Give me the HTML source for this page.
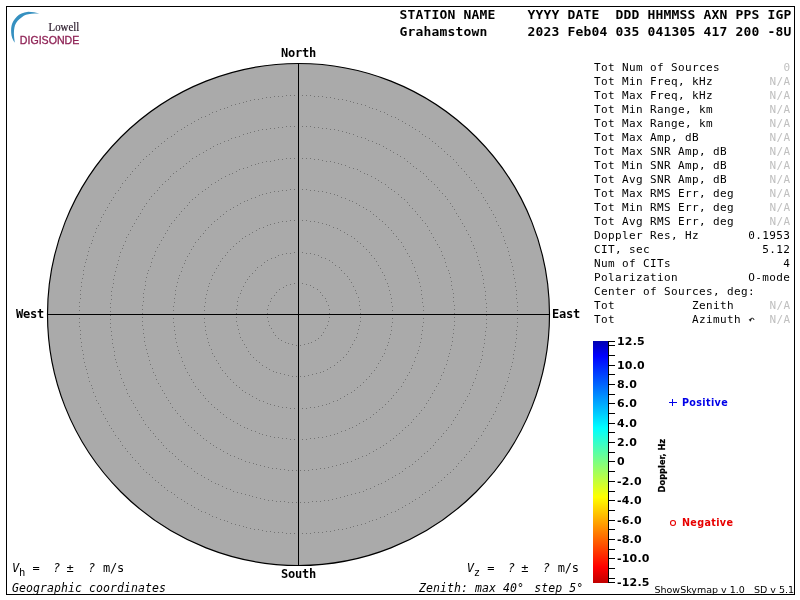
<!DOCTYPE html>
<html><head><meta charset="utf-8"><title>Skymap</title>
<style>
html,body{margin:0;padding:0;background:#fff;width:800px;height:600px;overflow:hidden}
svg{position:absolute;left:0;top:0;display:block;will-change:transform}
text{white-space:pre}
.hd{font:bold 13px "DejaVu Sans Mono",monospace;letter-spacing:0.173px;fill:#000}
.st{font:11px "DejaVu Sans Mono",monospace;letter-spacing:0.378px;fill:#000}
.na{fill:#c0c0c0}
.cmp{font:bold 12px "DejaVu Sans Mono",monospace;letter-spacing:-0.225px;fill:#000}
.it{font:italic 12px "DejaVu Sans Mono",monospace;letter-spacing:-0.225px;fill:#000}
.it2{font:italic 11.5px "DejaVu Sans Mono",monospace;letter-spacing:0.077px;fill:#000}
.up{font:12px "DejaVu Sans Mono",monospace;fill:#000}
.sub{font:10.5px "DejaVu Sans Mono",monospace;fill:#000}
.cb{font:bold 11px "DejaVu Sans",sans-serif;letter-spacing:0.2px;fill:#000}
.lg{font:bold 9.6px "DejaVu Sans",sans-serif;letter-spacing:0.34px}
.ft{font:9.5px "DejaVu Sans",sans-serif;fill:#000}
</style></head><body>
<svg width="800" height="600" viewBox="0 0 800 600">
<defs>
<linearGradient id="jet" x1="0" y1="341" x2="0" y2="583" gradientUnits="userSpaceOnUse">
<stop offset="0" stop-color="#0000b0"/>
<stop offset="0.062" stop-color="#0000ff"/>
<stop offset="0.36" stop-color="#00ffff"/>
<stop offset="0.645" stop-color="#ffff00"/>
<stop offset="0.934" stop-color="#ff0000"/>
<stop offset="1" stop-color="#c00000"/>
</linearGradient>
</defs>
<rect x="6.5" y="6.5" width="788" height="588" fill="none" stroke="#000" stroke-width="1"/>

<circle cx="298.5" cy="314.5" r="251" fill="#aaaaaa" stroke="#000" stroke-width="1.15"/>
<path d="M79 302h1v1h-1zM79 306h1v1h-1zM79 310h1v1h-1zM79 314h1v1h-1zM79 318h1v1h-1zM79 322h1v1h-1zM79 326h1v1h-1zM80 290h1v1h-1zM80 294h1v1h-1zM80 298h1v1h-1zM80 330h1v1h-1zM80 334h1v1h-1zM80 338h1v1h-1zM81 282h1v1h-1zM81 286h1v1h-1zM81 342h1v1h-1zM81 346h1v1h-1zM82 278h1v1h-1zM82 350h1v1h-1zM83 270h1v1h-1zM83 274h1v1h-1zM83 354h1v1h-1zM83 358h1v1h-1zM84 266h1v1h-1zM84 362h1v1h-1zM85 262h1v1h-1zM85 366h1v1h-1zM86 259h1v1h-1zM86 369h1v1h-1zM87 255h1v1h-1zM87 373h1v1h-1zM88 251h1v1h-1zM88 377h1v1h-1zM89 247h1v1h-1zM89 381h1v1h-1zM91 243h1v1h-1zM91 385h1v1h-1zM92 240h1v1h-1zM92 388h1v1h-1zM93 236h1v1h-1zM93 392h1v1h-1zM95 232h1v1h-1zM95 396h1v1h-1zM96 228h1v1h-1zM96 400h1v1h-1zM98 225h1v1h-1zM98 403h1v1h-1zM100 221h1v1h-1zM100 407h1v1h-1zM101 217h1v1h-1zM101 411h1v1h-1zM103 214h1v1h-1zM103 414h1v1h-1zM105 210h1v1h-1zM105 418h1v1h-1zM107 207h1v1h-1zM107 421h1v1h-1zM109 203h1v1h-1zM109 425h1v1h-1zM110 303h1v1h-1zM110 307h1v1h-1zM110 311h1v1h-1zM110 315h1v1h-1zM110 319h1v1h-1zM110 323h1v1h-1zM110 327h1v1h-1zM111 200h1v1h-1zM111 291h1v1h-1zM111 295h1v1h-1zM111 299h1v1h-1zM111 331h1v1h-1zM111 335h1v1h-1zM111 428h1v1h-1zM112 287h1v1h-1zM112 339h1v1h-1zM112 343h1v1h-1zM113 197h1v1h-1zM113 279h1v1h-1zM113 283h1v1h-1zM113 347h1v1h-1zM113 431h1v1h-1zM114 275h1v1h-1zM114 351h1v1h-1zM114 355h1v1h-1zM115 193h1v1h-1zM115 271h1v1h-1zM115 359h1v1h-1zM115 435h1v1h-1zM116 267h1v1h-1zM116 362h1v1h-1zM117 264h1v1h-1zM117 366h1v1h-1zM118 190h1v1h-1zM118 260h1v1h-1zM118 438h1v1h-1zM119 256h1v1h-1zM119 370h1v1h-1zM120 187h1v1h-1zM120 252h1v1h-1zM120 374h1v1h-1zM120 441h1v1h-1zM121 378h1v1h-1zM122 183h1v1h-1zM122 248h1v1h-1zM122 445h1v1h-1zM123 245h1v1h-1zM123 382h1v1h-1zM124 385h1v1h-1zM125 180h1v1h-1zM125 241h1v1h-1zM125 448h1v1h-1zM126 237h1v1h-1zM126 389h1v1h-1zM127 177h1v1h-1zM127 393h1v1h-1zM127 451h1v1h-1zM128 234h1v1h-1zM129 396h1v1h-1zM130 174h1v1h-1zM130 230h1v1h-1zM130 454h1v1h-1zM131 400h1v1h-1zM132 171h1v1h-1zM132 226h1v1h-1zM132 457h1v1h-1zM133 403h1v1h-1zM134 223h1v1h-1zM135 168h1v1h-1zM135 407h1v1h-1zM135 460h1v1h-1zM136 219h1v1h-1zM137 410h1v1h-1zM138 165h1v1h-1zM138 216h1v1h-1zM138 463h1v1h-1zM139 414h1v1h-1zM140 162h1v1h-1zM140 213h1v1h-1zM140 466h1v1h-1zM141 417h1v1h-1zM142 209h1v1h-1zM142 305h1v1h-1zM142 309h1v1h-1zM142 313h1v1h-1zM142 317h1v1h-1zM142 321h1v1h-1zM142 325h1v1h-1zM143 159h1v1h-1zM143 293h1v1h-1zM143 297h1v1h-1zM143 301h1v1h-1zM143 329h1v1h-1zM143 333h1v1h-1zM143 420h1v1h-1zM143 469h1v1h-1zM144 206h1v1h-1zM144 289h1v1h-1zM144 337h1v1h-1zM144 341h1v1h-1zM145 281h1v1h-1zM145 285h1v1h-1zM145 345h1v1h-1zM145 424h1v1h-1zM146 156h1v1h-1zM146 203h1v1h-1zM146 277h1v1h-1zM146 349h1v1h-1zM146 472h1v1h-1zM147 273h1v1h-1zM147 353h1v1h-1zM148 270h1v1h-1zM148 356h1v1h-1zM148 427h1v1h-1zM149 154h1v1h-1zM149 199h1v1h-1zM149 360h1v1h-1zM149 474h1v1h-1zM150 266h1v1h-1zM150 364h1v1h-1zM150 430h1v1h-1zM151 196h1v1h-1zM151 262h1v1h-1zM152 151h1v1h-1zM152 258h1v1h-1zM152 368h1v1h-1zM152 477h1v1h-1zM153 372h1v1h-1zM153 433h1v1h-1zM154 193h1v1h-1zM154 255h1v1h-1zM155 148h1v1h-1zM155 251h1v1h-1zM155 375h1v1h-1zM155 436h1v1h-1zM155 480h1v1h-1zM156 379h1v1h-1zM157 190h1v1h-1zM157 247h1v1h-1zM158 146h1v1h-1zM158 383h1v1h-1zM158 439h1v1h-1zM158 482h1v1h-1zM159 187h1v1h-1zM159 244h1v1h-1zM160 386h1v1h-1zM161 143h1v1h-1zM161 240h1v1h-1zM161 442h1v1h-1zM161 485h1v1h-1zM162 184h1v1h-1zM162 390h1v1h-1zM163 237h1v1h-1zM163 445h1v1h-1zM164 141h1v1h-1zM164 393h1v1h-1zM164 487h1v1h-1zM165 181h1v1h-1zM165 233h1v1h-1zM166 397h1v1h-1zM166 448h1v1h-1zM167 138h1v1h-1zM167 230h1v1h-1zM167 490h1v1h-1zM168 179h1v1h-1zM168 400h1v1h-1zM169 226h1v1h-1zM169 451h1v1h-1zM170 176h1v1h-1zM170 403h1v1h-1zM171 136h1v1h-1zM171 223h1v1h-1zM171 492h1v1h-1zM172 407h1v1h-1zM172 453h1v1h-1zM173 173h1v1h-1zM173 306h1v1h-1zM173 310h1v1h-1zM173 314h1v1h-1zM173 318h1v1h-1zM173 322h1v1h-1zM174 134h1v1h-1zM174 220h1v1h-1zM174 298h1v1h-1zM174 302h1v1h-1zM174 326h1v1h-1zM174 330h1v1h-1zM174 494h1v1h-1zM175 290h1v1h-1zM175 294h1v1h-1zM175 334h1v1h-1zM175 338h1v1h-1zM175 410h1v1h-1zM175 456h1v1h-1zM176 171h1v1h-1zM176 217h1v1h-1zM176 286h1v1h-1zM176 342h1v1h-1zM177 131h1v1h-1zM177 282h1v1h-1zM177 346h1v1h-1zM177 413h1v1h-1zM177 497h1v1h-1zM178 278h1v1h-1zM178 350h1v1h-1zM178 459h1v1h-1zM179 214h1v1h-1zM179 275h1v1h-1zM179 353h1v1h-1zM180 168h1v1h-1zM180 416h1v1h-1zM181 129h1v1h-1zM181 211h1v1h-1zM181 271h1v1h-1zM181 357h1v1h-1zM181 461h1v1h-1zM181 499h1v1h-1zM182 267h1v1h-1zM182 361h1v1h-1zM183 166h1v1h-1zM183 419h1v1h-1zM184 127h1v1h-1zM184 208h1v1h-1zM184 263h1v1h-1zM184 365h1v1h-1zM184 464h1v1h-1zM184 501h1v1h-1zM185 260h1v1h-1zM185 368h1v1h-1zM185 422h1v1h-1zM186 163h1v1h-1zM187 125h1v1h-1zM187 205h1v1h-1zM187 256h1v1h-1zM187 372h1v1h-1zM187 466h1v1h-1zM187 503h1v1h-1zM188 425h1v1h-1zM189 161h1v1h-1zM189 202h1v1h-1zM189 253h1v1h-1zM189 375h1v1h-1zM191 123h1v1h-1zM191 249h1v1h-1zM191 379h1v1h-1zM191 427h1v1h-1zM191 468h1v1h-1zM191 505h1v1h-1zM192 158h1v1h-1zM192 199h1v1h-1zM193 246h1v1h-1zM193 382h1v1h-1zM194 121h1v1h-1zM194 430h1v1h-1zM194 471h1v1h-1zM194 507h1v1h-1zM195 197h1v1h-1zM195 242h1v1h-1zM195 386h1v1h-1zM196 156h1v1h-1zM197 433h1v1h-1zM197 473h1v1h-1zM198 119h1v1h-1zM198 194h1v1h-1zM198 239h1v1h-1zM198 389h1v1h-1zM198 509h1v1h-1zM199 154h1v1h-1zM200 236h1v1h-1zM200 392h1v1h-1zM200 435h1v1h-1zM201 117h1v1h-1zM201 475h1v1h-1zM201 511h1v1h-1zM202 191h1v1h-1zM203 152h1v1h-1zM203 233h1v1h-1zM203 395h1v1h-1zM203 438h1v1h-1zM204 306h1v1h-1zM204 310h1v1h-1zM204 314h1v1h-1zM204 318h1v1h-1zM204 322h1v1h-1zM204 477h1v1h-1zM205 116h1v1h-1zM205 189h1v1h-1zM205 230h1v1h-1zM205 298h1v1h-1zM205 302h1v1h-1zM205 326h1v1h-1zM205 330h1v1h-1zM205 398h1v1h-1zM205 512h1v1h-1zM206 150h1v1h-1zM206 294h1v1h-1zM206 334h1v1h-1zM206 440h1v1h-1zM207 290h1v1h-1zM207 338h1v1h-1zM208 187h1v1h-1zM208 227h1v1h-1zM208 286h1v1h-1zM208 342h1v1h-1zM208 401h1v1h-1zM208 479h1v1h-1zM209 114h1v1h-1zM209 283h1v1h-1zM209 345h1v1h-1zM209 514h1v1h-1zM210 148h1v1h-1zM210 443h1v1h-1zM211 184h1v1h-1zM211 224h1v1h-1zM211 279h1v1h-1zM211 349h1v1h-1zM211 404h1v1h-1zM211 481h1v1h-1zM212 112h1v1h-1zM212 275h1v1h-1zM212 353h1v1h-1zM212 516h1v1h-1zM213 146h1v1h-1zM213 445h1v1h-1zM214 221h1v1h-1zM214 272h1v1h-1zM214 356h1v1h-1zM214 407h1v1h-1zM215 182h1v1h-1zM215 483h1v1h-1zM216 111h1v1h-1zM216 268h1v1h-1zM216 360h1v1h-1zM216 447h1v1h-1zM216 517h1v1h-1zM217 144h1v1h-1zM217 219h1v1h-1zM217 409h1v1h-1zM218 180h1v1h-1zM218 265h1v1h-1zM218 363h1v1h-1zM218 484h1v1h-1zM220 109h1v1h-1zM220 143h1v1h-1zM220 216h1v1h-1zM220 261h1v1h-1zM220 367h1v1h-1zM220 412h1v1h-1zM220 449h1v1h-1zM220 519h1v1h-1zM221 178h1v1h-1zM222 258h1v1h-1zM222 370h1v1h-1zM222 486h1v1h-1zM223 214h1v1h-1zM223 414h1v1h-1zM223 451h1v1h-1zM224 108h1v1h-1zM224 141h1v1h-1zM224 520h1v1h-1zM225 176h1v1h-1zM225 255h1v1h-1zM225 373h1v1h-1zM226 211h1v1h-1zM226 417h1v1h-1zM226 488h1v1h-1zM227 107h1v1h-1zM227 252h1v1h-1zM227 376h1v1h-1zM227 453h1v1h-1zM227 521h1v1h-1zM228 140h1v1h-1zM229 174h1v1h-1zM230 209h1v1h-1zM230 249h1v1h-1zM230 379h1v1h-1zM230 419h1v1h-1zM230 455h1v1h-1zM230 489h1v1h-1zM231 105h1v1h-1zM231 138h1v1h-1zM231 523h1v1h-1zM232 173h1v1h-1zM233 207h1v1h-1zM233 246h1v1h-1zM233 382h1v1h-1zM233 421h1v1h-1zM233 491h1v1h-1zM234 456h1v1h-1zM235 104h1v1h-1zM235 137h1v1h-1zM235 524h1v1h-1zM236 171h1v1h-1zM236 243h1v1h-1zM236 309h1v1h-1zM236 313h1v1h-1zM236 317h1v1h-1zM236 321h1v1h-1zM236 385h1v1h-1zM237 205h1v1h-1zM237 301h1v1h-1zM237 305h1v1h-1zM237 325h1v1h-1zM237 423h1v1h-1zM237 492h1v1h-1zM238 297h1v1h-1zM238 329h1v1h-1zM238 458h1v1h-1zM239 103h1v1h-1zM239 136h1v1h-1zM239 169h1v1h-1zM239 241h1v1h-1zM239 333h1v1h-1zM239 387h1v1h-1zM239 525h1v1h-1zM240 203h1v1h-1zM240 293h1v1h-1zM240 337h1v1h-1zM240 425h1v1h-1zM241 290h1v1h-1zM241 459h1v1h-1zM241 493h1v1h-1zM242 238h1v1h-1zM242 340h1v1h-1zM242 390h1v1h-1zM243 102h1v1h-1zM243 134h1v1h-1zM243 168h1v1h-1zM243 286h1v1h-1zM243 526h1v1h-1zM244 201h1v1h-1zM244 344h1v1h-1zM244 427h1v1h-1zM245 236h1v1h-1zM245 282h1v1h-1zM245 392h1v1h-1zM245 461h1v1h-1zM245 494h1v1h-1zM246 101h1v1h-1zM246 347h1v1h-1zM246 527h1v1h-1zM247 133h1v1h-1zM247 167h1v1h-1zM247 200h1v1h-1zM247 279h1v1h-1zM247 428h1v1h-1zM248 351h1v1h-1zM249 234h1v1h-1zM249 276h1v1h-1zM249 394h1v1h-1zM249 462h1v1h-1zM249 495h1v1h-1zM250 100h1v1h-1zM250 132h1v1h-1zM250 354h1v1h-1zM250 528h1v1h-1zM251 165h1v1h-1zM251 198h1v1h-1zM251 430h1v1h-1zM252 232h1v1h-1zM252 273h1v1h-1zM252 396h1v1h-1zM252 496h1v1h-1zM253 357h1v1h-1zM253 463h1v1h-1zM254 99h1v1h-1zM254 131h1v1h-1zM254 529h1v1h-1zM255 164h1v1h-1zM255 197h1v1h-1zM255 270h1v1h-1zM255 431h1v1h-1zM256 230h1v1h-1zM256 360h1v1h-1zM256 398h1v1h-1zM256 464h1v1h-1zM256 497h1v1h-1zM257 267h1v1h-1zM258 99h1v1h-1zM258 130h1v1h-1zM258 163h1v1h-1zM258 529h1v1h-1zM259 195h1v1h-1zM259 228h1v1h-1zM259 362h1v1h-1zM259 400h1v1h-1zM259 433h1v1h-1zM260 465h1v1h-1zM260 498h1v1h-1zM261 265h1v1h-1zM262 98h1v1h-1zM262 129h1v1h-1zM262 162h1v1h-1zM262 194h1v1h-1zM262 365h1v1h-1zM262 434h1v1h-1zM262 530h1v1h-1zM263 227h1v1h-1zM263 401h1v1h-1zM264 262h1v1h-1zM264 466h1v1h-1zM264 499h1v1h-1zM266 97h1v1h-1zM266 129h1v1h-1zM266 161h1v1h-1zM266 193h1v1h-1zM266 367h1v1h-1zM266 435h1v1h-1zM266 531h1v1h-1zM267 225h1v1h-1zM267 260h1v1h-1zM267 309h1v1h-1zM267 313h1v1h-1zM267 317h1v1h-1zM267 403h1v1h-1zM268 305h1v1h-1zM268 321h1v1h-1zM268 467h1v1h-1zM268 500h1v1h-1zM269 325h1v1h-1zM269 369h1v1h-1zM270 97h1v1h-1zM270 128h1v1h-1zM270 161h1v1h-1zM270 192h1v1h-1zM270 224h1v1h-1zM270 301h1v1h-1zM270 404h1v1h-1zM270 436h1v1h-1zM270 531h1v1h-1zM271 258h1v1h-1zM271 298h1v1h-1zM271 328h1v1h-1zM272 468h1v1h-1zM272 500h1v1h-1zM273 332h1v1h-1zM273 371h1v1h-1zM274 96h1v1h-1zM274 128h1v1h-1zM274 160h1v1h-1zM274 191h1v1h-1zM274 223h1v1h-1zM274 295h1v1h-1zM274 405h1v1h-1zM274 437h1v1h-1zM274 532h1v1h-1zM275 257h1v1h-1zM275 335h1v1h-1zM276 292h1v1h-1zM276 372h1v1h-1zM276 468h1v1h-1zM276 501h1v1h-1zM278 96h1v1h-1zM278 127h1v1h-1zM278 159h1v1h-1zM278 191h1v1h-1zM278 222h1v1h-1zM278 255h1v1h-1zM278 338h1v1h-1zM278 406h1v1h-1zM278 437h1v1h-1zM278 532h1v1h-1zM279 289h1v1h-1zM280 373h1v1h-1zM280 469h1v1h-1zM280 501h1v1h-1zM281 340h1v1h-1zM282 96h1v1h-1zM282 127h1v1h-1zM282 159h1v1h-1zM282 190h1v1h-1zM282 221h1v1h-1zM282 254h1v1h-1zM282 407h1v1h-1zM282 438h1v1h-1zM282 532h1v1h-1zM283 287h1v1h-1zM284 374h1v1h-1zM284 469h1v1h-1zM284 501h1v1h-1zM285 342h1v1h-1zM286 95h1v1h-1zM286 126h1v1h-1zM286 158h1v1h-1zM286 190h1v1h-1zM286 221h1v1h-1zM286 253h1v1h-1zM286 285h1v1h-1zM286 407h1v1h-1zM286 438h1v1h-1zM286 533h1v1h-1zM288 343h1v1h-1zM288 375h1v1h-1zM288 470h1v1h-1zM288 502h1v1h-1zM290 95h1v1h-1zM290 126h1v1h-1zM290 158h1v1h-1zM290 189h1v1h-1zM290 220h1v1h-1zM290 253h1v1h-1zM290 284h1v1h-1zM290 408h1v1h-1zM290 439h1v1h-1zM290 533h1v1h-1zM292 344h1v1h-1zM292 376h1v1h-1zM292 470h1v1h-1zM292 502h1v1h-1zM294 95h1v1h-1zM294 126h1v1h-1zM294 158h1v1h-1zM294 189h1v1h-1zM294 220h1v1h-1zM294 252h1v1h-1zM294 283h1v1h-1zM294 408h1v1h-1zM294 439h1v1h-1zM294 533h1v1h-1zM296 345h1v1h-1zM296 376h1v1h-1zM296 470h1v1h-1zM296 502h1v1h-1zM298 95h1v1h-1zM298 126h1v1h-1zM298 158h1v1h-1zM298 189h1v1h-1zM298 220h1v1h-1zM298 252h1v1h-1zM298 283h1v1h-1zM298 408h1v1h-1zM298 439h1v1h-1zM298 533h1v1h-1zM300 345h1v1h-1zM300 376h1v1h-1zM300 470h1v1h-1zM300 502h1v1h-1zM302 95h1v1h-1zM302 126h1v1h-1zM302 158h1v1h-1zM302 189h1v1h-1zM302 220h1v1h-1zM302 252h1v1h-1zM302 283h1v1h-1zM302 408h1v1h-1zM302 439h1v1h-1zM302 533h1v1h-1zM304 344h1v1h-1zM304 376h1v1h-1zM304 470h1v1h-1zM304 502h1v1h-1zM306 95h1v1h-1zM306 126h1v1h-1zM306 158h1v1h-1zM306 189h1v1h-1zM306 220h1v1h-1zM306 253h1v1h-1zM306 284h1v1h-1zM306 408h1v1h-1zM306 439h1v1h-1zM306 533h1v1h-1zM308 343h1v1h-1zM308 375h1v1h-1zM308 470h1v1h-1zM308 502h1v1h-1zM310 95h1v1h-1zM310 126h1v1h-1zM310 158h1v1h-1zM310 190h1v1h-1zM310 221h1v1h-1zM310 253h1v1h-1zM310 285h1v1h-1zM310 407h1v1h-1zM310 438h1v1h-1zM310 533h1v1h-1zM311 342h1v1h-1zM312 374h1v1h-1zM312 469h1v1h-1zM312 501h1v1h-1zM313 287h1v1h-1zM314 96h1v1h-1zM314 127h1v1h-1zM314 159h1v1h-1zM314 190h1v1h-1zM314 221h1v1h-1zM314 254h1v1h-1zM314 407h1v1h-1zM314 438h1v1h-1zM314 532h1v1h-1zM315 340h1v1h-1zM316 373h1v1h-1zM316 469h1v1h-1zM316 501h1v1h-1zM317 289h1v1h-1zM318 96h1v1h-1zM318 127h1v1h-1zM318 159h1v1h-1zM318 191h1v1h-1zM318 222h1v1h-1zM318 255h1v1h-1zM318 338h1v1h-1zM318 406h1v1h-1zM318 437h1v1h-1zM318 532h1v1h-1zM320 292h1v1h-1zM320 372h1v1h-1zM320 468h1v1h-1zM320 501h1v1h-1zM321 257h1v1h-1zM321 335h1v1h-1zM322 96h1v1h-1zM322 128h1v1h-1zM322 160h1v1h-1zM322 191h1v1h-1zM322 223h1v1h-1zM322 295h1v1h-1zM322 405h1v1h-1zM322 437h1v1h-1zM322 532h1v1h-1zM323 332h1v1h-1zM323 371h1v1h-1zM324 468h1v1h-1zM324 500h1v1h-1zM325 258h1v1h-1zM325 298h1v1h-1zM325 328h1v1h-1zM326 97h1v1h-1zM326 128h1v1h-1zM326 161h1v1h-1zM326 192h1v1h-1zM326 224h1v1h-1zM326 301h1v1h-1zM326 404h1v1h-1zM326 436h1v1h-1zM326 531h1v1h-1zM327 325h1v1h-1zM327 369h1v1h-1zM328 305h1v1h-1zM328 321h1v1h-1zM328 467h1v1h-1zM328 500h1v1h-1zM329 225h1v1h-1zM329 260h1v1h-1zM329 309h1v1h-1zM329 313h1v1h-1zM329 317h1v1h-1zM329 403h1v1h-1zM330 97h1v1h-1zM330 129h1v1h-1zM330 161h1v1h-1zM330 193h1v1h-1zM330 367h1v1h-1zM330 435h1v1h-1zM330 531h1v1h-1zM332 262h1v1h-1zM332 466h1v1h-1zM332 499h1v1h-1zM333 227h1v1h-1zM333 401h1v1h-1zM334 98h1v1h-1zM334 129h1v1h-1zM334 162h1v1h-1zM334 194h1v1h-1zM334 365h1v1h-1zM334 434h1v1h-1zM334 530h1v1h-1zM335 265h1v1h-1zM336 465h1v1h-1zM336 498h1v1h-1zM337 195h1v1h-1zM337 228h1v1h-1zM337 362h1v1h-1zM337 400h1v1h-1zM337 433h1v1h-1zM338 99h1v1h-1zM338 130h1v1h-1zM338 163h1v1h-1zM338 529h1v1h-1zM339 267h1v1h-1zM340 230h1v1h-1zM340 360h1v1h-1zM340 398h1v1h-1zM340 464h1v1h-1zM340 497h1v1h-1zM341 164h1v1h-1zM341 197h1v1h-1zM341 270h1v1h-1zM341 431h1v1h-1zM342 99h1v1h-1zM342 131h1v1h-1zM342 529h1v1h-1zM343 357h1v1h-1zM343 463h1v1h-1zM344 232h1v1h-1zM344 273h1v1h-1zM344 396h1v1h-1zM344 496h1v1h-1zM345 165h1v1h-1zM345 198h1v1h-1zM345 430h1v1h-1zM346 100h1v1h-1zM346 132h1v1h-1zM346 354h1v1h-1zM346 528h1v1h-1zM347 234h1v1h-1zM347 276h1v1h-1zM347 394h1v1h-1zM347 462h1v1h-1zM347 495h1v1h-1zM348 351h1v1h-1zM349 133h1v1h-1zM349 167h1v1h-1zM349 200h1v1h-1zM349 279h1v1h-1zM349 428h1v1h-1zM350 101h1v1h-1zM350 347h1v1h-1zM350 527h1v1h-1zM351 236h1v1h-1zM351 282h1v1h-1zM351 392h1v1h-1zM351 461h1v1h-1zM351 494h1v1h-1zM352 201h1v1h-1zM352 344h1v1h-1zM352 427h1v1h-1zM353 102h1v1h-1zM353 134h1v1h-1zM353 168h1v1h-1zM353 286h1v1h-1zM353 526h1v1h-1zM354 238h1v1h-1zM354 340h1v1h-1zM354 390h1v1h-1zM355 290h1v1h-1zM355 459h1v1h-1zM355 493h1v1h-1zM356 203h1v1h-1zM356 293h1v1h-1zM356 337h1v1h-1zM356 425h1v1h-1zM357 103h1v1h-1zM357 136h1v1h-1zM357 169h1v1h-1zM357 241h1v1h-1zM357 333h1v1h-1zM357 387h1v1h-1zM357 525h1v1h-1zM358 297h1v1h-1zM358 329h1v1h-1zM358 458h1v1h-1zM359 205h1v1h-1zM359 301h1v1h-1zM359 305h1v1h-1zM359 325h1v1h-1zM359 423h1v1h-1zM359 492h1v1h-1zM360 171h1v1h-1zM360 243h1v1h-1zM360 309h1v1h-1zM360 313h1v1h-1zM360 317h1v1h-1zM360 321h1v1h-1zM360 385h1v1h-1zM361 104h1v1h-1zM361 137h1v1h-1zM361 524h1v1h-1zM362 456h1v1h-1zM363 207h1v1h-1zM363 246h1v1h-1zM363 382h1v1h-1zM363 421h1v1h-1zM363 491h1v1h-1zM364 173h1v1h-1zM365 105h1v1h-1zM365 138h1v1h-1zM365 523h1v1h-1zM366 209h1v1h-1zM366 249h1v1h-1zM366 379h1v1h-1zM366 419h1v1h-1zM366 455h1v1h-1zM366 489h1v1h-1zM367 174h1v1h-1zM368 140h1v1h-1zM369 107h1v1h-1zM369 252h1v1h-1zM369 376h1v1h-1zM369 453h1v1h-1zM369 521h1v1h-1zM370 211h1v1h-1zM370 417h1v1h-1zM370 488h1v1h-1zM371 176h1v1h-1zM371 255h1v1h-1zM371 373h1v1h-1zM372 108h1v1h-1zM372 141h1v1h-1zM372 520h1v1h-1zM373 214h1v1h-1zM373 414h1v1h-1zM373 451h1v1h-1zM374 258h1v1h-1zM374 370h1v1h-1zM374 486h1v1h-1zM375 178h1v1h-1zM376 109h1v1h-1zM376 143h1v1h-1zM376 216h1v1h-1zM376 261h1v1h-1zM376 367h1v1h-1zM376 412h1v1h-1zM376 449h1v1h-1zM376 519h1v1h-1zM378 180h1v1h-1zM378 265h1v1h-1zM378 363h1v1h-1zM378 484h1v1h-1zM379 144h1v1h-1zM379 219h1v1h-1zM379 409h1v1h-1zM380 111h1v1h-1zM380 268h1v1h-1zM380 360h1v1h-1zM380 447h1v1h-1zM380 517h1v1h-1zM381 182h1v1h-1zM381 483h1v1h-1zM382 221h1v1h-1zM382 272h1v1h-1zM382 356h1v1h-1zM382 407h1v1h-1zM383 146h1v1h-1zM383 445h1v1h-1zM384 112h1v1h-1zM384 275h1v1h-1zM384 353h1v1h-1zM384 516h1v1h-1zM385 184h1v1h-1zM385 224h1v1h-1zM385 279h1v1h-1zM385 349h1v1h-1zM385 404h1v1h-1zM385 481h1v1h-1zM386 148h1v1h-1zM386 443h1v1h-1zM387 114h1v1h-1zM387 283h1v1h-1zM387 345h1v1h-1zM387 514h1v1h-1zM388 187h1v1h-1zM388 227h1v1h-1zM388 286h1v1h-1zM388 342h1v1h-1zM388 401h1v1h-1zM388 479h1v1h-1zM389 290h1v1h-1zM389 338h1v1h-1zM390 150h1v1h-1zM390 294h1v1h-1zM390 334h1v1h-1zM390 440h1v1h-1zM391 116h1v1h-1zM391 189h1v1h-1zM391 230h1v1h-1zM391 298h1v1h-1zM391 302h1v1h-1zM391 326h1v1h-1zM391 330h1v1h-1zM391 398h1v1h-1zM391 512h1v1h-1zM392 306h1v1h-1zM392 310h1v1h-1zM392 314h1v1h-1zM392 318h1v1h-1zM392 322h1v1h-1zM392 477h1v1h-1zM393 152h1v1h-1zM393 233h1v1h-1zM393 395h1v1h-1zM393 438h1v1h-1zM394 191h1v1h-1zM395 117h1v1h-1zM395 475h1v1h-1zM395 511h1v1h-1zM396 236h1v1h-1zM396 392h1v1h-1zM396 435h1v1h-1zM397 154h1v1h-1zM398 119h1v1h-1zM398 194h1v1h-1zM398 239h1v1h-1zM398 389h1v1h-1zM398 509h1v1h-1zM399 433h1v1h-1zM399 473h1v1h-1zM400 156h1v1h-1zM401 197h1v1h-1zM401 242h1v1h-1zM401 386h1v1h-1zM402 121h1v1h-1zM402 430h1v1h-1zM402 471h1v1h-1zM402 507h1v1h-1zM403 246h1v1h-1zM403 382h1v1h-1zM404 158h1v1h-1zM404 199h1v1h-1zM405 123h1v1h-1zM405 249h1v1h-1zM405 379h1v1h-1zM405 427h1v1h-1zM405 468h1v1h-1zM405 505h1v1h-1zM407 161h1v1h-1zM407 202h1v1h-1zM407 253h1v1h-1zM407 375h1v1h-1zM408 425h1v1h-1zM409 125h1v1h-1zM409 205h1v1h-1zM409 256h1v1h-1zM409 372h1v1h-1zM409 466h1v1h-1zM409 503h1v1h-1zM410 163h1v1h-1zM411 260h1v1h-1zM411 368h1v1h-1zM411 422h1v1h-1zM412 127h1v1h-1zM412 208h1v1h-1zM412 263h1v1h-1zM412 365h1v1h-1zM412 464h1v1h-1zM412 501h1v1h-1zM413 166h1v1h-1zM413 419h1v1h-1zM414 267h1v1h-1zM414 361h1v1h-1zM415 129h1v1h-1zM415 211h1v1h-1zM415 271h1v1h-1zM415 357h1v1h-1zM415 461h1v1h-1zM415 499h1v1h-1zM416 168h1v1h-1zM416 416h1v1h-1zM417 214h1v1h-1zM417 275h1v1h-1zM417 353h1v1h-1zM418 278h1v1h-1zM418 350h1v1h-1zM418 459h1v1h-1zM419 131h1v1h-1zM419 282h1v1h-1zM419 346h1v1h-1zM419 413h1v1h-1zM419 497h1v1h-1zM420 171h1v1h-1zM420 217h1v1h-1zM420 286h1v1h-1zM420 342h1v1h-1zM421 290h1v1h-1zM421 294h1v1h-1zM421 334h1v1h-1zM421 338h1v1h-1zM421 410h1v1h-1zM421 456h1v1h-1zM422 134h1v1h-1zM422 220h1v1h-1zM422 298h1v1h-1zM422 302h1v1h-1zM422 326h1v1h-1zM422 330h1v1h-1zM422 494h1v1h-1zM423 173h1v1h-1zM423 306h1v1h-1zM423 310h1v1h-1zM423 314h1v1h-1zM423 318h1v1h-1zM423 322h1v1h-1zM424 407h1v1h-1zM424 453h1v1h-1zM425 136h1v1h-1zM425 223h1v1h-1zM425 492h1v1h-1zM426 176h1v1h-1zM426 403h1v1h-1zM427 226h1v1h-1zM427 451h1v1h-1zM428 179h1v1h-1zM428 400h1v1h-1zM429 138h1v1h-1zM429 230h1v1h-1zM429 490h1v1h-1zM430 397h1v1h-1zM430 448h1v1h-1zM431 181h1v1h-1zM431 233h1v1h-1zM432 141h1v1h-1zM432 393h1v1h-1zM432 487h1v1h-1zM433 237h1v1h-1zM433 445h1v1h-1zM434 184h1v1h-1zM434 390h1v1h-1zM435 143h1v1h-1zM435 240h1v1h-1zM435 442h1v1h-1zM435 485h1v1h-1zM436 386h1v1h-1zM437 187h1v1h-1zM437 244h1v1h-1zM438 146h1v1h-1zM438 383h1v1h-1zM438 439h1v1h-1zM438 482h1v1h-1zM439 190h1v1h-1zM439 247h1v1h-1zM440 379h1v1h-1zM441 148h1v1h-1zM441 251h1v1h-1zM441 375h1v1h-1zM441 436h1v1h-1zM441 480h1v1h-1zM442 193h1v1h-1zM442 255h1v1h-1zM443 372h1v1h-1zM443 433h1v1h-1zM444 151h1v1h-1zM444 258h1v1h-1zM444 368h1v1h-1zM444 477h1v1h-1zM445 196h1v1h-1zM445 262h1v1h-1zM446 266h1v1h-1zM446 364h1v1h-1zM446 430h1v1h-1zM447 154h1v1h-1zM447 199h1v1h-1zM447 360h1v1h-1zM447 474h1v1h-1zM448 270h1v1h-1zM448 356h1v1h-1zM448 427h1v1h-1zM449 273h1v1h-1zM449 353h1v1h-1zM450 156h1v1h-1zM450 203h1v1h-1zM450 277h1v1h-1zM450 349h1v1h-1zM450 472h1v1h-1zM451 281h1v1h-1zM451 285h1v1h-1zM451 345h1v1h-1zM451 424h1v1h-1zM452 206h1v1h-1zM452 289h1v1h-1zM452 337h1v1h-1zM452 341h1v1h-1zM453 159h1v1h-1zM453 293h1v1h-1zM453 297h1v1h-1zM453 301h1v1h-1zM453 329h1v1h-1zM453 333h1v1h-1zM453 420h1v1h-1zM453 469h1v1h-1zM454 209h1v1h-1zM454 305h1v1h-1zM454 309h1v1h-1zM454 313h1v1h-1zM454 317h1v1h-1zM454 321h1v1h-1zM454 325h1v1h-1zM455 417h1v1h-1zM456 162h1v1h-1zM456 213h1v1h-1zM456 466h1v1h-1zM457 414h1v1h-1zM458 165h1v1h-1zM458 216h1v1h-1zM458 463h1v1h-1zM459 410h1v1h-1zM460 219h1v1h-1zM461 168h1v1h-1zM461 407h1v1h-1zM461 460h1v1h-1zM462 223h1v1h-1zM463 403h1v1h-1zM464 171h1v1h-1zM464 226h1v1h-1zM464 457h1v1h-1zM465 400h1v1h-1zM466 174h1v1h-1zM466 230h1v1h-1zM466 454h1v1h-1zM467 396h1v1h-1zM468 234h1v1h-1zM469 177h1v1h-1zM469 393h1v1h-1zM469 451h1v1h-1zM470 237h1v1h-1zM470 389h1v1h-1zM471 180h1v1h-1zM471 241h1v1h-1zM471 448h1v1h-1zM472 385h1v1h-1zM473 245h1v1h-1zM473 382h1v1h-1zM474 183h1v1h-1zM474 248h1v1h-1zM474 445h1v1h-1zM475 378h1v1h-1zM476 187h1v1h-1zM476 252h1v1h-1zM476 374h1v1h-1zM476 441h1v1h-1zM477 256h1v1h-1zM477 370h1v1h-1zM478 190h1v1h-1zM478 260h1v1h-1zM478 438h1v1h-1zM479 264h1v1h-1zM479 366h1v1h-1zM480 267h1v1h-1zM480 362h1v1h-1zM481 193h1v1h-1zM481 271h1v1h-1zM481 359h1v1h-1zM481 435h1v1h-1zM482 275h1v1h-1zM482 351h1v1h-1zM482 355h1v1h-1zM483 197h1v1h-1zM483 279h1v1h-1zM483 283h1v1h-1zM483 347h1v1h-1zM483 431h1v1h-1zM484 287h1v1h-1zM484 339h1v1h-1zM484 343h1v1h-1zM485 200h1v1h-1zM485 291h1v1h-1zM485 295h1v1h-1zM485 299h1v1h-1zM485 331h1v1h-1zM485 335h1v1h-1zM485 428h1v1h-1zM486 303h1v1h-1zM486 307h1v1h-1zM486 311h1v1h-1zM486 315h1v1h-1zM486 319h1v1h-1zM486 323h1v1h-1zM486 327h1v1h-1zM487 203h1v1h-1zM487 425h1v1h-1zM489 207h1v1h-1zM489 421h1v1h-1zM491 210h1v1h-1zM491 418h1v1h-1zM493 214h1v1h-1zM493 414h1v1h-1zM495 217h1v1h-1zM495 411h1v1h-1zM496 221h1v1h-1zM496 407h1v1h-1zM498 225h1v1h-1zM498 403h1v1h-1zM500 228h1v1h-1zM500 400h1v1h-1zM501 232h1v1h-1zM501 396h1v1h-1zM503 236h1v1h-1zM503 392h1v1h-1zM504 240h1v1h-1zM504 388h1v1h-1zM505 243h1v1h-1zM505 385h1v1h-1zM507 247h1v1h-1zM507 381h1v1h-1zM508 251h1v1h-1zM508 377h1v1h-1zM509 255h1v1h-1zM509 373h1v1h-1zM510 259h1v1h-1zM510 369h1v1h-1zM511 262h1v1h-1zM511 366h1v1h-1zM512 266h1v1h-1zM512 362h1v1h-1zM513 270h1v1h-1zM513 274h1v1h-1zM513 354h1v1h-1zM513 358h1v1h-1zM514 278h1v1h-1zM514 350h1v1h-1zM515 282h1v1h-1zM515 286h1v1h-1zM515 342h1v1h-1zM515 346h1v1h-1zM516 290h1v1h-1zM516 294h1v1h-1zM516 298h1v1h-1zM516 330h1v1h-1zM516 334h1v1h-1zM516 338h1v1h-1zM517 302h1v1h-1zM517 306h1v1h-1zM517 310h1v1h-1zM517 314h1v1h-1zM517 318h1v1h-1zM517 322h1v1h-1zM517 326h1v1h-1z" fill="#747474"/>
<line x1="298.5" y1="63.5" x2="298.5" y2="565.5" stroke="#000" stroke-width="1"/>
<line x1="47.5" y1="314.5" x2="549.5" y2="314.5" stroke="#000" stroke-width="1"/>
<text class="cmp" x="281" y="57">North</text>
<text class="cmp" x="281" y="578">South</text>
<text class="cmp" x="16" y="318">West</text>
<text class="cmp" x="552" y="318">East</text>
<text class="hd" x="399.5" y="19">STATION NAME    YYYY DATE  DDD HHMMSS AXN PPS IGP</text>
<text class="hd" x="399.5" y="36">Grahamstown     2023 Feb04 035 041305 417 200 -8U</text>
<text class="st" x="594" y="71">Tot Num of Sources</text>
<text class="st na" x="783.6" y="71">0</text>
<text class="st" x="594" y="85">Tot Min Freq, kHz</text>
<text class="st na" x="769.6" y="85">N/A</text>
<text class="st" x="594" y="99">Tot Max Freq, kHz</text>
<text class="st na" x="769.6" y="99">N/A</text>
<text class="st" x="594" y="113">Tot Min Range, km</text>
<text class="st na" x="769.6" y="113">N/A</text>
<text class="st" x="594" y="127">Tot Max Range, km</text>
<text class="st na" x="769.6" y="127">N/A</text>
<text class="st" x="594" y="141">Tot Max Amp, dB</text>
<text class="st na" x="769.6" y="141">N/A</text>
<text class="st" x="594" y="155">Tot Max SNR Amp, dB</text>
<text class="st na" x="769.6" y="155">N/A</text>
<text class="st" x="594" y="169">Tot Min SNR Amp, dB</text>
<text class="st na" x="769.6" y="169">N/A</text>
<text class="st" x="594" y="183">Tot Avg SNR Amp, dB</text>
<text class="st na" x="769.6" y="183">N/A</text>
<text class="st" x="594" y="197">Tot Max RMS Err, deg</text>
<text class="st na" x="769.6" y="197">N/A</text>
<text class="st" x="594" y="211">Tot Min RMS Err, deg</text>
<text class="st na" x="769.6" y="211">N/A</text>
<text class="st" x="594" y="225">Tot Avg RMS Err, deg</text>
<text class="st na" x="769.6" y="225">N/A</text>
<text class="st" x="594" y="239">Doppler Res, Hz</text>
<text class="st" x="748.3" y="239">0.1953</text>
<text class="st" x="594" y="253">CIT, sec</text>
<text class="st" x="762.3" y="253">5.12</text>
<text class="st" x="594" y="267">Num of CITs</text>
<text class="st" x="783.3" y="267">4</text>
<text class="st" x="594" y="281">Polarization</text>
<text class="st" x="748.3" y="281">O-mode</text>
<text class="st" x="594" y="295">Center of Sources, deg:</text>
<text class="st" x="594" y="309">Tot           Zenith</text>
<text class="st na" x="769.6" y="309">N/A</text>
<text class="st" x="594" y="323">Tot           Azimuth</text>
<text class="st na" x="769.6" y="323">N/A</text>
<path d="M750.3 320 A1.85 1.85 0 0 1 754 320" fill="none" stroke="#222" stroke-width="1"/>
<path d="M748.7 319.3 L751.8 319.3 L750.3 321.7 Z" fill="#111"/>
<rect x="593" y="341" width="15" height="242" fill="url(#jet)"/>
<rect x="608" y="341" width="1" height="242" fill="#000"/>
<rect x="608" y="341" width="7" height="1" fill="#000"/>
<rect x="608" y="345" width="7" height="1" fill="#000"/>
<rect x="608" y="355" width="7" height="1" fill="#000"/>
<rect x="608" y="365" width="7" height="1" fill="#000"/>
<rect x="608" y="374" width="7" height="1" fill="#000"/>
<rect x="608" y="384" width="7" height="1" fill="#000"/>
<rect x="608" y="394" width="7" height="1" fill="#000"/>
<rect x="608" y="403" width="7" height="1" fill="#000"/>
<rect x="608" y="413" width="7" height="1" fill="#000"/>
<rect x="608" y="423" width="7" height="1" fill="#000"/>
<rect x="608" y="432" width="7" height="1" fill="#000"/>
<rect x="608" y="442" width="7" height="1" fill="#000"/>
<rect x="608" y="452" width="7" height="1" fill="#000"/>
<rect x="608" y="461" width="7" height="1" fill="#000"/>
<rect x="608" y="471" width="7" height="1" fill="#000"/>
<rect x="608" y="481" width="7" height="1" fill="#000"/>
<rect x="608" y="491" width="7" height="1" fill="#000"/>
<rect x="608" y="500" width="7" height="1" fill="#000"/>
<rect x="608" y="510" width="7" height="1" fill="#000"/>
<rect x="608" y="520" width="7" height="1" fill="#000"/>
<rect x="608" y="529" width="7" height="1" fill="#000"/>
<rect x="608" y="539" width="7" height="1" fill="#000"/>
<rect x="608" y="549" width="7" height="1" fill="#000"/>
<rect x="608" y="558" width="7" height="1" fill="#000"/>
<rect x="608" y="568" width="7" height="1" fill="#000"/>
<rect x="608" y="578" width="7" height="1" fill="#000"/>
<rect x="608" y="582" width="7" height="1" fill="#000"/>
<text class="cb" x="617" y="345">12.5</text>
<text class="cb" x="617" y="369">10.0</text>
<text class="cb" x="617" y="388">8.0</text>
<text class="cb" x="617" y="407">6.0</text>
<text class="cb" x="617" y="427">4.0</text>
<text class="cb" x="617" y="446">2.0</text>
<text class="cb" x="617" y="465">0</text>
<text class="cb" x="617" y="485">-2.0</text>
<text class="cb" x="617" y="504">-4.0</text>
<text class="cb" x="617" y="524">-6.0</text>
<text class="cb" x="617" y="543">-8.0</text>
<text class="cb" x="617" y="562">-10.0</text>
<text class="cb" x="617" y="586">-12.5</text>
<text class="lg" transform="translate(665.2 465.6) rotate(-90)" text-anchor="middle" textLength="53.6" lengthAdjust="spacingAndGlyphs" style="font-size:9px;letter-spacing:0;stroke:#000;stroke-width:0.2">Doppler, Hz</text>
<rect x="669" y="402" width="8" height="1" fill="#0000e8"/><rect x="672" y="399" width="1" height="7" fill="#0000e8"/>
<text class="lg" x="682" y="406.3" fill="#0000e8">Positive</text>
<circle cx="673" cy="523" r="2.5" fill="none" stroke="#e80000" stroke-width="1.1"/>
<text class="lg" x="682" y="526.3" fill="#e80000">Negative</text>
<text class="ft" x="654.5" y="593">ShowSkymap v 1.0   SD v 5.1</text>
<text class="it" x="12" y="572">V</text><text class="sub" x="19" y="576">h</text><text class="up" x="32.5" y="572">=</text><text class="it" x="53" y="572">?</text><text class="up" x="66.6" y="572">±</text><text class="it" x="88" y="572">?</text><text class="up" x="103" y="572" style="letter-spacing:-0.225px">m/s</text>
<text class="it" x="466.7" y="572">V</text><text class="sub" x="473.7" y="576">z</text><text class="up" x="487.2" y="572">=</text><text class="it" x="507.7" y="572">?</text><text class="up" x="521.3" y="572">±</text><text class="it" x="542.7" y="572">?</text><text class="up" x="557.7" y="572" style="letter-spacing:-0.225px">m/s</text>
<text class="it2" x="12" y="592.4">Geographic coordinates</text>
<text class="it2" x="419" y="592.4">Zenith: max 40°</text><text class="it2" x="534.3" y="592.4">step 5°</text>
<path d="M39.3,13.6 L34,12.2 L28.3,11.8 L24.5,12.4 L21.5,13.4 L19,14.8 L17,16.6 L15,18.7 L13.4,21 L12.3,23.3 L11.6,25.6 L11.2,28 L11.1,30.5 L11.2,33 L11.5,35.5 L12.2,37.9 L13.2,40.3 L14.7,42.8 L14.5,40.3 L14.2,37.9 L14.0,35.5 L13.9,33.2 L14.0,30.5 L14.4,27.7 L15.0,25.3 L16.1,22.9 L17.5,21 L19.3,19.3 L21.5,17.4 L23.8,15.7 L26,14.8 L28.3,14.3 L31.5,13.8 L35,13.5 Z" fill="#3590c0"/>
<text x="48.6" y="30.8" style="font:11.8px 'Liberation Serif',serif;fill:#2a1a2a;stroke:#2a1a2a;stroke-width:0.2" textLength="30.6" lengthAdjust="spacingAndGlyphs">Lowell</text>
<text x="19.8" y="43.6" style="font:10.7px 'Liberation Sans',sans-serif;fill:#8e2255;stroke:#8e2255;stroke-width:0.3" textLength="59.5" lengthAdjust="spacingAndGlyphs">DIGISONDE</text>
</svg></body></html>
